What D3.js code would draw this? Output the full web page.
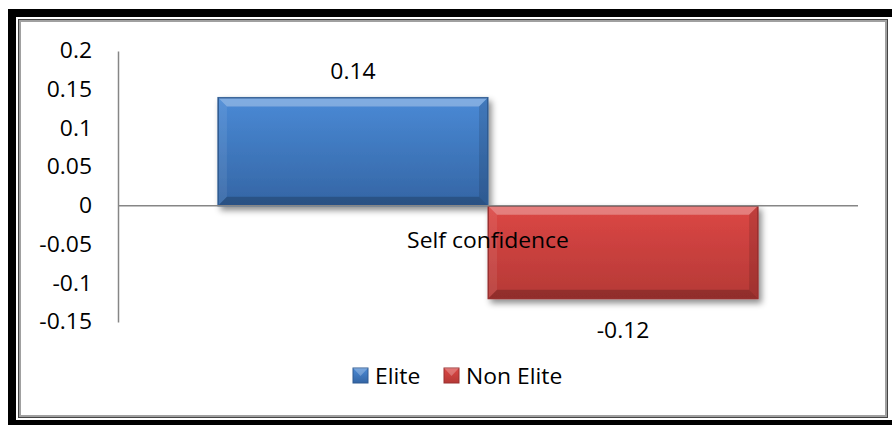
<!DOCTYPE html>
<html>
<head>
<meta charset="utf-8">
<script src="https://cdn.jsdelivr.net/npm/d3@7"></script>
<style>
    body { margin: 0; background: #fff; }
    text { font-family: "Open Sans", sans-serif; }
</style>
</head>
<body>
<div id="chart"></div>
<script>
var categories = ["Self confidence"];
var seriesNames = ["Elite", "Non Elite"];
var seriesValues = [0.14, -0.12];
var tickValues = [0.2, 0.15, 0.1, 0.05, 0, -0.05, -0.1, -0.15];
var tickLabels = ["0.2", "0.15", "0.1", "0.05", "0", "-0.05", "-0.1", "-0.15"];

var colors = [
    { top: "#4a8ad6", bottom: "#3465a4", stroke: "#2f5b92" },
    { top: "#dc4745", bottom: "#b53936", stroke: "#9a3030" }
];

var width = 892, height = 425;
var plot = { left: 118, right: 858, top: 51, bottom: 322 };
var fontSize = "21px";

// the original text is a little wider than Open Sans, stretch it a bit
function stretch(sel) {
    sel.each(function() {
        var w = this.getComputedTextLength();
        d3.select(this)
            .attr("textLength", w * 1.09)
            .attr("lengthAdjust", "spacingAndGlyphs");
    });
}

var svg = d3.select("#chart").append("svg")
    .attr("width", width)
    .attr("height", height);

var defs = svg.append("defs");

var shadow = defs.append("filter").attr("id", "shadow")
    .attr("x", "-10%").attr("y", "-10%").attr("width", "130%").attr("height", "140%");
shadow.append("feDropShadow")
    .attr("dx", 3).attr("dy", 4).attr("stdDeviation", 3)
    .attr("flood-color", "#000").attr("flood-opacity", 0.45);

colors.forEach(function(c, i) {
    var g = defs.append("linearGradient").attr("id", "grad" + i)
        .attr("x1", 0).attr("y1", 0).attr("x2", 0).attr("y2", 1);
    g.append("stop").attr("offset", "0%").attr("stop-color", c.top);
    g.append("stop").attr("offset", "100%").attr("stop-color", c.bottom);
});

// outer frame
svg.append("rect").attr("x", 8).attr("y", 9).attr("width", 884).attr("height", 416).attr("fill", "#000");
svg.append("rect").attr("x", 16).attr("y", 17).attr("width", 876).attr("height", 403).attr("fill", "#fff");
svg.append("rect").attr("x", 18.5).attr("y", 19.5).attr("width", 869).attr("height", 398)
    .attr("fill", "none").attr("stroke", "#444").attr("stroke-width", 1);
svg.append("rect").attr("x", 20).attr("y", 21).attr("width", 866).attr("height", 395)
    .attr("fill", "#fff").attr("stroke", "#a0a0a0").attr("stroke-width", 2);

var y = d3.scaleLinear()
    .domain([-0.15, 0.2])
    .range([plot.bottom, plot.top]);

var x0 = d3.scaleBand()
    .domain(categories)
    .range([plot.left, plot.right])
    .paddingInner(0)
    .paddingOuter(0.185);

var x1 = d3.scaleBand()
    .domain(seriesNames)
    .range([0, x0.bandwidth()])
    .padding(0);

// y axis
var yAxis = d3.axisLeft(y)
    .tickValues(tickValues)
    .tickSize(0)
    .tickPadding(26)
    .tickFormat(function(d, i) { return tickLabels[i]; });

var axisG = svg.append("g")
    .attr("transform", "translate(" + plot.left + ",0)")
    .call(yAxis);
axisG.select(".domain").attr("stroke", "#868686").attr("stroke-width", 1.5);
axisG.selectAll("text")
    .attr("fill", "#000")
    .style("font-size", fontSize)
    .style("font-family", "'Open Sans', sans-serif")
    .call(stretch);

// bars
var bars = svg.append("g").selectAll("g")
    .data(seriesValues.map(function(v, i) {
        return { name: seriesNames[i], value: v, cat: categories[0], i: i };
    }))
    .enter().append("g");

bars.each(function(d) {
    var g = d3.select(this);
    var bx = x0(d.cat) + x1(d.name);
    var bw = x1.bandwidth();
    var by = y(Math.max(0, d.value));
    var bh = Math.abs(y(d.value) - y(0));
    var b = 9;

    g.append("rect")
        .attr("x", bx).attr("y", by).attr("width", bw).attr("height", bh)
        .attr("fill", "url(#grad" + d.i + ")")
        .attr("stroke", colors[d.i].stroke).attr("stroke-width", 1)
        .attr("filter", "url(#shadow)");

    var pts = function(a) { return a.map(function(p) { return p.join(","); }).join(" "); };
    // bevel edges
    g.append("polygon")
        .attr("points", pts([[bx, by], [bx + bw, by], [bx + bw - b, by + b], [bx + b, by + b]]))
        .attr("fill", "#fff").attr("opacity", 0.3);
    g.append("polygon")
        .attr("points", pts([[bx, by], [bx + b, by + b], [bx + b, by + bh - b], [bx, by + bh]]))
        .attr("fill", "#fff").attr("opacity", 0.08);
    g.append("polygon")
        .attr("points", pts([[bx + bw, by], [bx + bw - b, by + b], [bx + bw - b, by + bh - b], [bx + bw, by + bh]]))
        .attr("fill", "#000").attr("opacity", 0.12);
    g.append("polygon")
        .attr("points", pts([[bx, by + bh], [bx + b, by + bh - b], [bx + bw - b, by + bh - b], [bx + bw, by + bh]]))
        .attr("fill", "#000").attr("opacity", 0.2);
    g.append("rect")
        .attr("x", bx + 0.5).attr("y", by + 0.5).attr("width", bw - 1).attr("height", bh - 1)
        .attr("fill", "none").attr("stroke", colors[d.i].stroke).attr("stroke-width", 1);

    // data label
    g.append("text")
        .attr("x", bx + bw / 2)
        .attr("y", d.value >= 0 ? by - 18 : by + bh + 39)
        .attr("text-anchor", "middle")
        .style("font-size", fontSize)
        .text(d.value.toFixed(2))
        .call(stretch);
});

// zero line
svg.append("line")
    .attr("x1", plot.left).attr("x2", plot.right)
    .attr("y1", y(0)).attr("y2", y(0))
    .attr("stroke", "#868686").attr("stroke-width", 1.5);

// category label
svg.append("text")
    .attr("x", x0(categories[0]) + x0.bandwidth() / 2)
    .attr("y", y(0) + 42)
    .attr("text-anchor", "middle")
    .style("font-size", fontSize)
    .text(categories[0])
    .call(stretch);

// legend
var legendX = [353, 444];
var legend = svg.append("g").selectAll("g")
    .data(seriesNames)
    .enter().append("g")
    .attr("transform", function(d, i) { return "translate(" + legendX[i] + ",368)"; });

legend.append("rect")
    .attr("width", 15).attr("height", 15)
    .attr("fill", function(d, i) { return "url(#grad" + i + ")"; })
    .attr("stroke", function(d, i) { return colors[i].stroke; });
legend.append("polygon")
    .attr("points", "0,0 15,0 7.5,8")
    .attr("fill", "#fff").attr("opacity", 0.25);
legend.append("text")
    .attr("x", 22).attr("y", 16)
    .style("font-size", fontSize)
    .text(function(d) { return d; })
    .call(stretch);
</script>
</body>
</html>
